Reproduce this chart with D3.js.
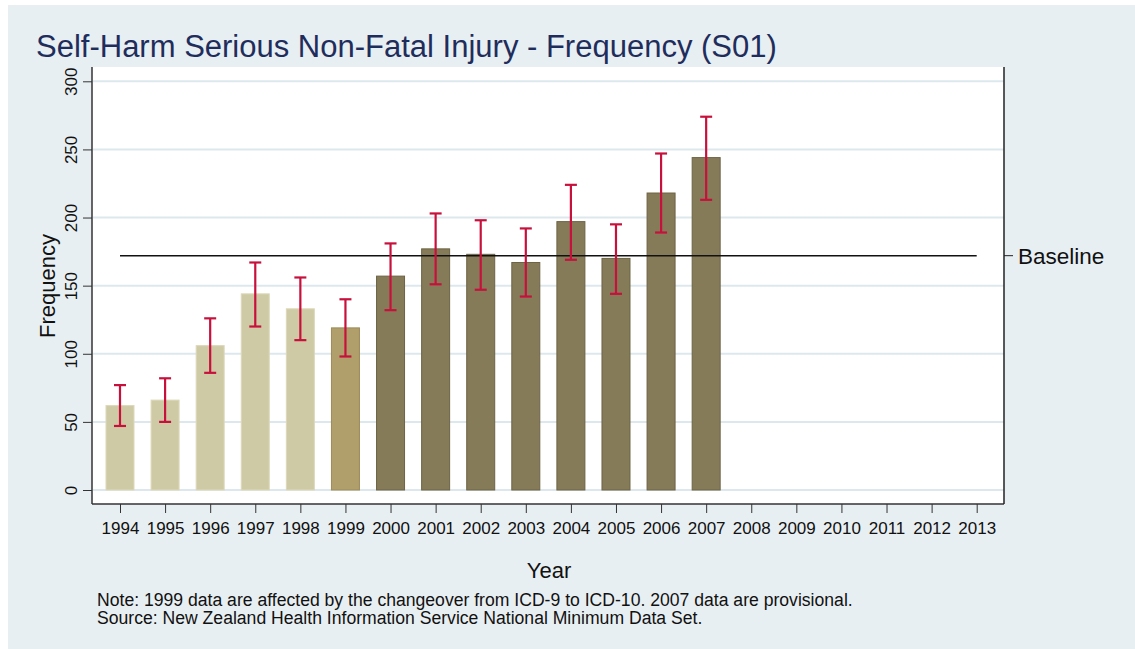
<!DOCTYPE html>
<html>
<head>
<meta charset="utf-8">
<script src="https://cdn.jsdelivr.net/npm/d3@7"></script>
<style>
  body { margin: 0; background: #fff; }
  svg { display: block; font-family: "Liberation Sans", Arial, sans-serif; }
</style>
</head>
<body>
<svg width="1135" height="649"></svg>
<script>
// values
var years = ["1994","1995","1996","1997","1998","1999","2000","2001","2002","2003",
             "2004","2005","2006","2007","2008","2009","2010","2011","2012","2013"];
var freq   = [62, 66, 106, 144, 133, 119, 157, 177, 173, 167, 197, 170, 218, 244];
var ciLow  = [47, 50, 86, 120, 110, 98, 132, 151, 147, 142, 169, 144, 189, 213];
var ciHigh = [77, 82, 126, 167, 156, 140, 181, 203, 198, 192, 224, 195, 247, 274];
var period = ["pre","pre","pre","pre","pre","change","post","post","post","post","post","post","post","post"];
var baseline = 172;
var yTicks = [0, 50, 100, 150, 200, 250, 300];

var fills   = {pre: "#cfcaa6", change: "#b09f6b", post: "#857b59"};
var strokes = {pre: "#ddd8b8", change: "#9c8b58", post: "#6d6344"};

var svg = d3.select("svg");

svg.append("rect").attr("x", 8).attr("y", 5).attr("width", 1127).attr("height", 644)
   .attr("fill", "#e8eff2");

var pLeft = 92, pRight = 1004, pTop = 67, pBottom = 504;

svg.append("rect").attr("x", pLeft).attr("y", pTop).attr("width", pRight - pLeft).attr("height", pBottom - pTop)
   .attr("fill", "#fff");

var x = d3.scalePoint().domain(years).range([120, 976.7]);
var y = d3.scaleLinear().domain([0, 300]).range([490, 81.3]);
var bw = 28;

// grid
svg.append("g").selectAll("line").data(yTicks).enter().append("line")
   .attr("x1", pLeft + 1).attr("x2", pRight)
   .attr("y1", d => y(d)).attr("y2", d => y(d))
   .attr("stroke", "#dde8ee").attr("stroke-width", 2);

// bars
var data = freq.map((v, i) => ({year: years[i], v: v, lo: ciLow[i], hi: ciHigh[i], p: period[i]}));

svg.append("g").selectAll("rect").data(data).enter().append("rect")
   .attr("x", d => x(d.year) - bw / 2)
   .attr("y", d => y(d.v))
   .attr("width", bw)
   .attr("height", d => y(0) - y(d.v))
   .attr("fill", d => fills[d.p])
   .attr("stroke", d => strokes[d.p])
   .attr("stroke-width", 1);

// baseline
svg.append("line")
   .attr("x1", x("1994")).attr("x2", x("2013"))
   .attr("y1", y(baseline)).attr("y2", y(baseline))
   .attr("stroke", "#111").attr("stroke-width", 1.6);

// error bars
var eb = svg.append("g").attr("stroke", "#c8103c").attr("stroke-width", 2.2);
data.forEach(function(d) {
  var cx = x(d.year);
  eb.append("line").attr("x1", cx).attr("x2", cx).attr("y1", y(d.lo)).attr("y2", y(d.hi));
  eb.append("line").attr("x1", cx - 6).attr("x2", cx + 6).attr("y1", y(d.lo)).attr("y2", y(d.lo));
  eb.append("line").attr("x1", cx - 6).attr("x2", cx + 6).attr("y1", y(d.hi)).attr("y2", y(d.hi));
});

// y axis
var yAxis = svg.append("g").attr("transform", "translate(" + pLeft + ",0)")
   .call(d3.axisLeft(y).tickValues(yTicks).tickSize(9));
yAxis.select(".domain").attr("d", "M0," + pTop + "V" + pBottom).attr("stroke", "#333").attr("stroke-width", 1.5);
yAxis.selectAll(".tick line").attr("stroke", "#333");
yAxis.selectAll(".tick text")
   .attr("x", null).attr("dy", null).attr("y", 0)
   .attr("text-anchor", "middle")
   .attr("transform", "translate(-15,0) rotate(-90)")
   .style("font-size", "17px").attr("fill", "#111")
   .style("font-family", "Liberation Sans, Arial, sans-serif");

// x axis
var xAxis = svg.append("g").attr("transform", "translate(0," + pBottom + ")")
   .call(d3.axisBottom(x).tickSize(9));
xAxis.select(".domain").attr("d", "M" + pLeft + ",0H" + pRight).attr("stroke", "#333").attr("stroke-width", 1.5);
xAxis.selectAll(".tick line").attr("stroke", "#333");
xAxis.selectAll(".tick text").attr("y", 30).attr("dy", null)
   .style("font-size", "17px").attr("fill", "#111")
   .style("font-family", "Liberation Sans, Arial, sans-serif");

// right axis with baseline label
svg.append("line").attr("x1", pRight).attr("x2", pRight).attr("y1", pTop).attr("y2", pBottom)
   .attr("stroke", "#222").attr("stroke-width", 1.5);
svg.append("line").attr("x1", pRight).attr("x2", pRight + 9).attr("y1", y(baseline)).attr("y2", y(baseline))
   .attr("stroke", "#222").attr("stroke-width", 1);
svg.append("text").attr("x", pRight + 14).attr("y", y(baseline) + 8)
   .style("font-size", "22.5px").attr("fill", "#111").text("Baseline");

// titles
svg.append("text").attr("x", 36).attr("y", 57).style("font-size", "31px").attr("fill", "#1f2d5c")
   .text("Self-Harm Serious Non-Fatal Injury - Frequency (S01)");
svg.append("text").attr("transform", "translate(55,286) rotate(-90)").attr("text-anchor", "middle")
   .style("font-size", "22px").attr("fill", "#111").text("Frequency");
svg.append("text").attr("x", 549).attr("y", 578).attr("text-anchor", "middle")
   .style("font-size", "22px").attr("fill", "#111").text("Year");
svg.append("text").attr("x", 97).attr("y", 606).style("font-size", "17.6px").attr("fill", "#111")
   .text("Note: 1999 data are affected by the changeover from ICD-9 to ICD-10. 2007 data are provisional.");
svg.append("text").attr("x", 97).attr("y", 624).style("font-size", "17.6px").attr("fill", "#111")
   .text("Source: New Zealand Health Information Service National Minimum Data Set.");
</script>
</body>
</html>
